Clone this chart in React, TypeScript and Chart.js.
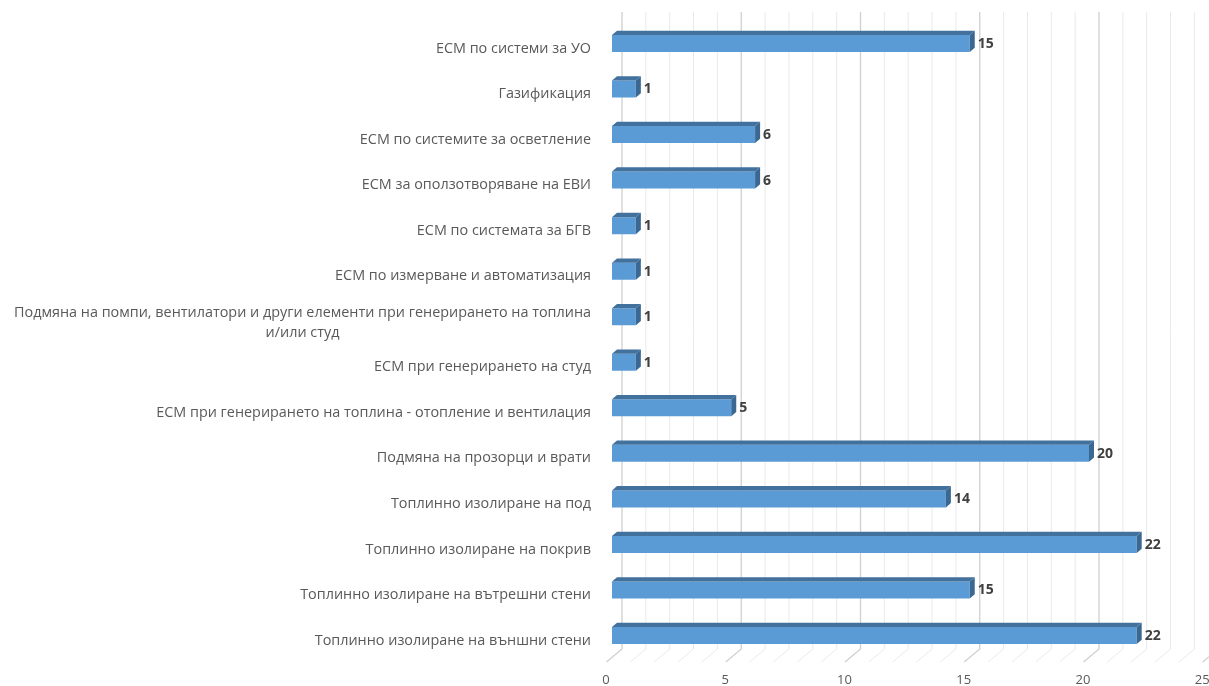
import React, { useEffect, useRef } from "react";
import { Chart, registerables } from "chart.js";

Chart.register(...registerables);

const categories: string[][] = [
  ["ЕСМ по системи за УО"],
  ["Газификация"],
  ["ЕСМ по системите за осветление"],
  ["ЕСМ за оползотворяване на ЕВИ"],
  ["ЕСМ по системата за БГВ"],
  ["ЕСМ по измерване и автоматизация"],
  ["Подмяна на помпи, вентилатори и други елементи при генерирането на топлина", "и/или студ"],
  ["ЕСМ при генерирането на студ"],
  ["ЕСМ при генерирането на топлина - отопление и вентилация"],
  ["Подмяна на прозорци и врати"],
  ["Топлинно изолиране на под"],
  ["Топлинно изолиране на покрив"],
  ["Топлинно изолиране на вътрешни стени"],
  ["Топлинно изолиране на външни стени"],
];
const values: number[] = [15, 1, 6, 6, 1, 1, 1, 1, 5, 20, 14, 22, 15, 22];
const xMin = 0;
const xMax = 25;
const xStep = 5;

const FONT = "'Open Sans', 'Noto Sans', sans-serif";
const DEPTH_X = 5;
const DEPTH_Y = 4.3;

const threeD = {
  id: "threeD",
  beforeDatasetsDraw(chart: any) {
    const ctx = chart.ctx;
    const xs = chart.scales.x;
    ctx.save();
    const backDx = 10;
    const floorFrontDx = -5.5;
    const floorBackY = 649;
    const floorFrontY = 662;
    const topY = 12;
    for (let v = xMin; v <= xMax; v++) {
      const px = xs.getPixelForValue(v);
      const major = v % xStep === 0;
      ctx.strokeStyle = major ? "#d0d0d0" : "#e9e9e9";
      ctx.lineWidth = major ? 1.3 : 1;
      ctx.beginPath();
      ctx.moveTo(px + backDx, topY);
      ctx.lineTo(px + backDx, floorBackY);
      ctx.lineTo(px + floorFrontDx, floorFrontY);
      ctx.stroke();
    }
    ctx.restore();
  },
  afterDatasetsDraw(chart: any) {
    const ctx = chart.ctx;
    const meta = chart.getDatasetMeta(0);
    ctx.save();
    meta.data.forEach((bar: any, i: number) => {
      const x0 = bar.base;
      const x1 = bar.x;
      const yT = bar.y - bar.height / 2;
      const yB = bar.y + bar.height / 2;
      ctx.fillStyle = "#41719c";
      ctx.beginPath();
      ctx.moveTo(x0, yT);
      ctx.lineTo(x0 + DEPTH_X, yT - DEPTH_Y);
      ctx.lineTo(x1 + DEPTH_X, yT - DEPTH_Y);
      ctx.lineTo(x1, yT);
      ctx.closePath();
      ctx.fill();
      ctx.fillStyle = "#3a6893";
      ctx.beginPath();
      ctx.moveTo(x1, yT);
      ctx.lineTo(x1 + DEPTH_X, yT - DEPTH_Y);
      ctx.lineTo(x1 + DEPTH_X, yB - DEPTH_Y);
      ctx.lineTo(x1, yB);
      ctx.closePath();
      ctx.fill();
      ctx.fillStyle = "#404040";
      ctx.font = `bold 14px ${FONT}`;
      ctx.textAlign = "left";
      ctx.textBaseline = "middle";
      ctx.fillText(String(values[i]), x1 + 8, bar.y + 0.5);
    });
    ctx.restore();
  },
  afterDraw(chart: any) {
    const ctx = chart.ctx;
    const ys = chart.scales.y;
    ctx.save();
    ctx.fillStyle = "#595959";
    ctx.font = `14.4px ${FONT}`;
    ctx.textBaseline = "middle";
    const rightX = 591;
    const lineH = 20;
    categories.forEach((lines, i) => {
      const cy = ys.getPixelForValue(i) + (lines.length > 1 ? 6 : 5);
      const widths = lines.map((l) => ctx.measureText(l).width);
      const maxW = Math.max(...widths);
      const center = rightX - maxW / 2;
      lines.forEach((l, j) => {
        const y = cy + (j - (lines.length - 1) / 2) * lineH;
        ctx.textAlign = "center";
        ctx.fillText(l, center, y);
      });
    });
    ctx.restore();
  },
};

export default function App() {
  const ref = useRef<HTMLCanvasElement>(null);
  useEffect(() => {
    if (!ref.current) return;
    const chart = new Chart(ref.current, {
      type: "bar",
      data: {
        labels: categories.map((c) => c.join(" ")),
        datasets: [
          {
            data: values,
            backgroundColor: "#5b9bd5",
            borderWidth: 0,
            barPercentage: 0.373,
            categoryPercentage: 1,
          },
        ],
      },
      options: {
        indexAxis: "y",
        animation: false,
        responsive: false,
        layout: { padding: { top: 20.7, right: 0.75, left: 0, bottom: 0 } },
        plugins: { legend: { display: false }, tooltip: { enabled: false } },
        scales: {
          x: {
            min: xMin,
            max: xMax,
            grid: { display: false },
            border: { display: false },
            ticks: {
              stepSize: xStep,
              color: "#595959",
              font: { family: FONT, size: 13 },
              padding: 6,
              labelOffset: -6,
              maxRotation: 0,
            },
            afterFit(scale: any) {
              scale.height = 686 - 658.3;
              scale.paddingLeft = 0;
              scale.paddingRight = 0;
            },
          },
          y: {
            grid: { display: false },
            border: { display: false },
            ticks: { display: false },
            afterFit(scale: any) {
              scale.width = 612;
            },
          },
        },
      },
      plugins: [threeD],
    });
    return () => chart.destroy();
  }, []);
  return (
    <div style={{ position: "absolute", left: 0, top: 0, width: 1209, height: 686, background: "#fff" }}>
      <canvas ref={ref} width={1209} height={686} style={{ display: "block" }} />
    </div>
  );
}
